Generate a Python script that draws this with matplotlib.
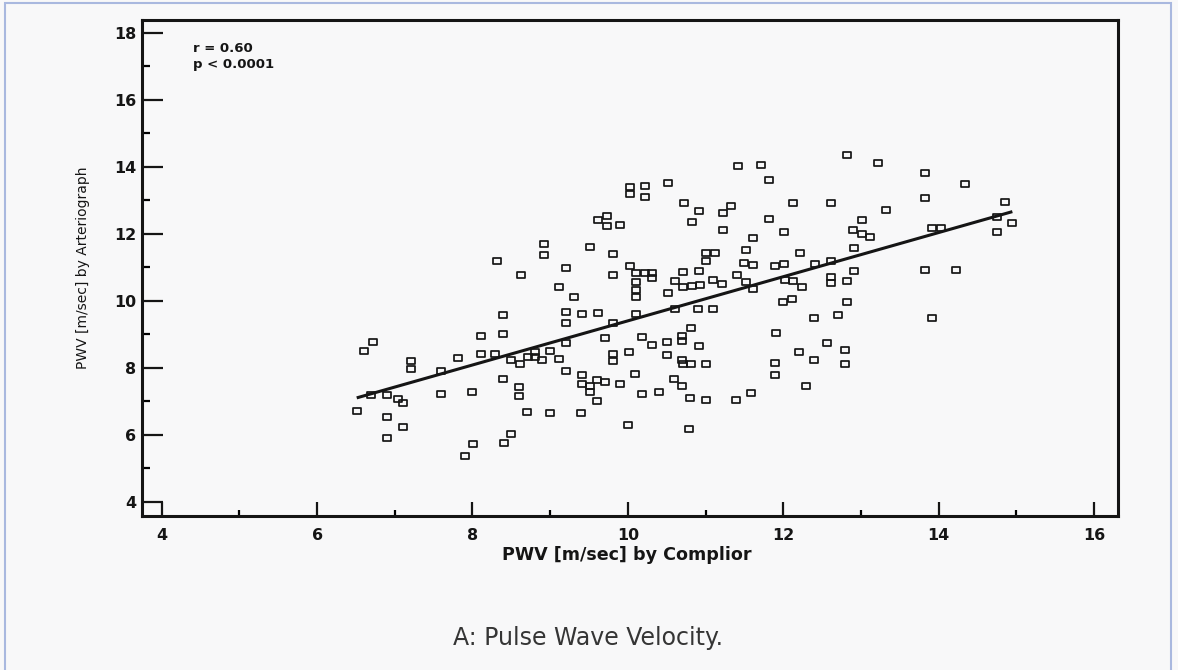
import numpy as np
import pandas as pd
from matplotlib import pyplot as plt
from matplotlib.path import Path
from matplotlib.patches import Rectangle

# PWV (Complior on x, Arteriograph on y)
pwv_complior = [
    6.61, 6.72, 6.70, 6.90, 6.51, 6.90, 6.90, 7.04, 7.11, 7.10,
    7.21, 7.21, 7.60, 7.60, 7.81, 8.00, 8.11, 8.11, 8.29, 7.90,
    8.01, 8.39, 8.39, 8.39, 8.40, 9.62, 9.73, 9.73, 9.90, 8.92,
    8.92, 9.51, 8.32, 9.81, 9.21, 8.62, 9.81, 9.12, 9.31, 9.21,
    9.41, 9.61, 11.42, 11.72, 11.82, 10.52, 10.03, 10.03, 10.22, 10.22,
    10.72, 10.92, 11.33, 11.22, 12.12, 10.82, 11.82, 11.22, 12.01, 11.61,
    11.52, 11.00, 11.12, 11.00, 12.21, 11.49, 11.61, 11.90, 12.01, 10.03,
    10.11, 10.22, 10.31, 10.31, 10.11, 10.11, 10.11, 10.71, 10.61, 10.71,
    10.82, 10.93, 10.92, 11.10, 11.21, 11.41, 11.52, 11.61, 10.52, 12.00,
    12.11, 12.02, 12.13, 10.61, 10.90, 11.10, 12.82, 13.22, 13.82, 14.34,
    13.82, 12.62, 14.85, 13.32, 13.02, 12.90, 13.01, 13.12, 13.92, 14.03,
    14.75, 14.95, 14.75, 12.91, 12.41, 12.61, 12.91, 12.61, 12.61, 12.82,
    13.82, 14.23, 12.24, 12.82, 10.11, 9.21, 9.81, 9.71, 9.21, 8.50,
    8.61, 8.71, 8.80, 8.80, 8.90, 9.00, 9.11, 9.20, 8.60, 8.60,
    8.70, 9.00, 9.40, 8.50, 9.41, 9.41, 9.51, 9.51, 9.60, 9.71,
    9.60, 9.90, 9.81, 9.81, 10.01, 10.09, 10.18, 10.00, 10.18, 12.40,
    10.81, 11.91, 10.31, 10.51, 10.70, 10.70, 10.91, 10.51, 10.70, 10.71,
    10.81, 11.00, 12.57, 12.20, 12.40, 11.90, 11.90, 10.60, 10.70, 12.29,
    10.40, 10.80, 11.00, 11.39, 11.59, 10.79, 12.70, 13.91, 12.80, 12.80,
]
pwv_arteriograph = [
    8.51, 8.76, 7.18, 7.18, 6.70, 6.53, 5.90, 7.06, 6.96, 6.23,
    8.20, 7.97, 7.89, 7.23, 8.29, 7.27, 8.96, 8.40, 8.40, 5.37,
    5.71, 9.56, 9.01, 7.65, 5.74, 12.40, 12.53, 12.24, 12.26, 11.69,
    11.36, 11.61, 11.19, 11.39, 10.98, 10.78, 10.78, 10.42, 10.10, 9.67,
    9.61, 9.64, 14.02, 14.04, 13.60, 13.52, 13.38, 13.18, 13.41, 13.10,
    12.91, 12.68, 12.83, 12.61, 12.93, 12.35, 12.43, 12.10, 12.04, 11.87,
    11.52, 11.43, 11.43, 11.19, 11.42, 11.14, 11.07, 11.04, 11.09, 11.04,
    10.83, 10.83, 10.83, 10.67, 10.55, 10.32, 10.10, 10.85, 10.60, 10.42,
    10.45, 10.48, 10.90, 10.63, 10.50, 10.77, 10.55, 10.35, 10.23, 9.97,
    10.05, 10.63, 10.60, 9.76, 9.74, 9.74, 14.35, 14.10, 13.82, 13.48,
    13.08, 12.93, 12.95, 12.70, 12.42, 12.11, 11.99, 11.89, 12.16, 12.16,
    12.50, 12.33, 12.04, 11.57, 11.09, 11.19, 10.88, 10.72, 10.52, 10.58,
    10.92, 10.92, 10.40, 9.95, 9.61, 9.33, 9.33, 8.88, 8.74, 8.22,
    8.10, 8.32, 8.46, 8.32, 8.22, 8.51, 8.25, 7.89, 7.42, 7.15,
    6.68, 6.66, 6.65, 6.01, 7.77, 7.50, 7.44, 7.27, 7.62, 7.57,
    7.00, 7.50, 8.42, 8.20, 8.48, 7.82, 7.23, 6.28, 8.93, 9.48,
    9.19, 9.03, 8.68, 8.76, 8.94, 8.81, 8.64, 8.39, 8.22, 8.10,
    8.12, 8.12, 8.73, 8.48, 8.22, 8.14, 7.79, 7.67, 7.44, 7.45,
    7.27, 7.11, 7.03, 7.03, 7.26, 6.17, 9.56, 9.48, 8.54, 8.10,
]

# regression line end points as drawn in the figure
fit_x = [6.51, 14.95]
fit_y = [7.10, 12.66]

stats_text = 'r = 0.60\np < 0.0001'
x_title = 'PWV [m/sec] by Complior'
y_title = 'PWV [m/sec] by Arteriograph'
caption = 'A: Pulse Wave Velocity.'

df = pd.DataFrame({'complior': pwv_complior, 'arteriograph': pwv_arteriograph})

# flat rectangle marker, a bit wider than tall like the scan
rect = Path([(-1, -0.68), (1, -0.68), (1, 0.68), (-1, 0.68), (-1, -0.68)],
            [Path.MOVETO, Path.LINETO, Path.LINETO, Path.LINETO, Path.CLOSEPOLY])

bg = '#f8f8f9'
ink = '#151515'
font = 'DejaVu Sans'

fig = plt.figure(figsize=(11.78, 6.70), dpi=100, facecolor=bg)
ax = fig.add_axes([142 / 1178, 1 - 516 / 670, (1118 - 142) / 1178, (516 - 20) / 670])
ax.set_facecolor(bg)

ax.plot(df['complior'], df['arteriograph'], linestyle='none', marker=rect,
        markersize=5.4, markerfacecolor='none', markeredgecolor=ink,
        markeredgewidth=1.25)
ax.plot(fit_x, fit_y, color=ink, linewidth=2.2, solid_capstyle='butt')

ax.set_xlim(3.746, 16.31)
ax.set_ylim(3.574, 18.38)

ax.set_xticks(np.arange(4, 17, 2))
ax.set_xticks(np.arange(5, 16, 2), minor=True)
ax.set_yticks(np.arange(4, 19, 2))
ax.set_yticks(np.arange(5, 18, 2), minor=True)

for s in ax.spines.values():
    s.set_linewidth(2.2)
    s.set_color(ink)

ax.tick_params(axis='x', which='major', direction='in', length=10, width=1.6,
               pad=8.5, labelsize=11.4, colors=ink)
ax.tick_params(axis='x', which='minor', direction='in', length=4.3, width=1.6)
ax.tick_params(axis='y', which='major', direction='in', length=15, width=1.6,
               pad=4, labelsize=11.4, colors=ink)
ax.tick_params(axis='y', which='minor', direction='in', length=6, width=1.6)
for lab in ax.get_xticklabels() + ax.get_yticklabels():
    lab.set_fontweight('bold')
    lab.set_family(font)

ax.set_xlabel(x_title, fontsize=12.6, fontweight='bold', family=font, color=ink)
# the y title in the scan is smaller and lighter than the x title
ax.set_ylabel(y_title, fontsize=10, fontweight='medium', family=font, color=ink)
ax.xaxis.set_label_coords(0.497, -0.061)
ax.yaxis.set_label_coords(-0.053, 0.50)

ax.text(0.052, 0.956, stats_text, transform=ax.transAxes, ha='left', va='top',
        fontsize=9.5, fontweight='bold', family=font, color=ink, linespacing=1.3)

# caption under the chart and the pale blue frame of the scanned page
fig.text(588 / 1178, 1 - 638 / 670, caption, ha='center', va='center',
         fontsize=17, family=font, color='#353535')
fig.patches.append(Rectangle((5 / 1178, -0.05), (1171 - 5) / 1178, 1.05 - 3 / 670,
                             transform=fig.transFigure, fill=False,
                             edgecolor='#a9b8df', linewidth=1.5))

plt.savefig('out.png', dpi=100, facecolor=bg)
plt.close('all')
